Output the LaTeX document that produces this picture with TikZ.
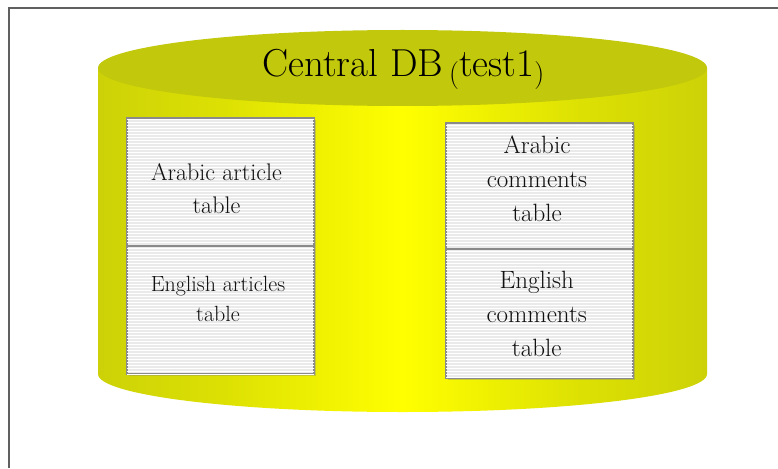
\documentclass[tikz,border=0pt]{standalone}
\usepackage{fontspec}
\usetikzlibrary{shadows,patterns}
\definecolor{dbolive}{HTML}{C2C80B}
\definecolor{dbmid}{HTML}{DCE003}
\definecolor{dbyellow}{HTML}{FFFF00}
\definecolor{boxfill}{HTML}{EAEAEA}
\definecolor{boxborder}{HTML}{8A8A8A}
\definecolor{txt}{HTML}{111111}
\definecolor{framecol}{HTML}{606060}
\pgfdeclarehorizontalshading{dbbody}{100bp}{color(0bp)=(dbolive); color(18bp)=(dbolive); color(35bp)=(dbmid); color(50bp)=(dbyellow); color(65bp)=(dbmid); color(82bp)=(dbolive); color(100bp)=(dbolive)}
\newcommand\dbtitletext{{\fontsize{39}{42}\selectfont\addfontfeatures{FakeBold=1.2}Central DB\hspace{6pt}\raisebox{-6pt}{\fontsize{28}{30}\selectfont\addfontfeatures{FakeBold=1.2}(}test1\raisebox{-6pt}{\fontsize{28}{30}\selectfont\addfontfeatures{FakeBold=1.2})}}}
\begin{document}
\begin{tikzpicture}[x=1pt,y=-1pt,
  tbox/.style={draw=boxborder, line width=1.2pt, fill=boxfill, minimum width=187pt, inner sep=0pt,
    postaction={pattern=horizontal lines, pattern color=white},
    drop shadow={shadow xshift=1.5pt, shadow yshift=-1.5pt, opacity=0.35}},
  ttext/.style={align=center, text=txt, inner sep=0pt},
  frameline/.style={draw=framecol, line width=1.5pt}
]
\useasboundingbox (0,0) rectangle (778,468);
\fill[white] (0,0) rectangle (778,468);
\draw[frameline] (9,468) -- (9,8) -- (778,8);

% cylinder body
\shade[shading=dbbody]
  (98,68) -- (98,374) arc[start angle=180, end angle=360, x radius=304.5pt, y radius=38pt] -- (707,68) -- cycle;
% cap
\fill[dbolive] (402.5,68) ellipse [x radius=304.5pt, y radius=38pt];

% title
\node[anchor=base west, inner sep=0pt, text=black] (title) at (262,77) {\dbtitletext};

% tables
\node[tbox, minimum height=128pt] (b1) at (220.5,182) {};
\node[tbox, minimum height=128pt] (b2) at (220.5,310) {};
\node[tbox, minimum height=126pt] (b3) at (539.5,186) {};
\node[tbox, minimum height=129pt] (b4) at (539.5,313.5) {};

\node[ttext, font=\fontsize{24}{33}\selectfont\addfontfeatures{FakeBold=1.5}] (t1) at (216.5,188.4) {Arabic article\\table};
\node[ttext, font=\fontsize{22}{30}\selectfont\addfontfeatures{FakeBold=2}] (t2) at (218,299.4) {English articles\\table};
\node[ttext, font=\fontsize{25}{34}\selectfont\addfontfeatures{FakeBold=1.5}] (t3) at (537,178.3) {Arabic\\comments\\table};
\node[ttext, font=\fontsize{25}{34}\selectfont\addfontfeatures{FakeBold=1.5}] (t4) at (536.7,314) {English\\comments\\table};
\end{tikzpicture}
\end{document}
